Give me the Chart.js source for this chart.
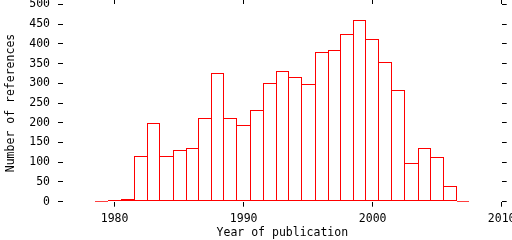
<!DOCTYPE html>
<html><head><meta charset="utf-8">
<script src="https://cdn.jsdelivr.net/npm/chart.js@4.4.1/dist/chart.umd.min.js"></script>
<style>html,body{margin:0;padding:0;background:#fff;overflow:hidden}#wrap{width:512px;height:240px;position:relative}</style>
</head><body><div id="wrap"><canvas id="c" width="512" height="240"></canvas></div>
<script>
// ---- data ----
const years = [1979,1980,1981,1982,1983,1984,1985,1986,1987,1988,1989,1990,1991,1992,1993,1994,1995,1996,1997,1998,1999,2000,2001,2002,2003,2004,2005,2006,2007];
const counts = [0,4,6,115,200,115,132,135,211,325,211,195,232,300,332,317,297,378,383,426,461,413,353,282,97,137,114,41,0];
const xTickLabels = [1980,1990,2000,2010];
const yTickLabels = [0,50,100,150,200,250,300,350,400,450,500];
const xRange = [1976, 2010];
const yRange = [0, 500];
const xTitle = 'Year of publication';
const yTitle = 'Number of references';

const FONT = {family: "'DejaVu Sans Mono', monospace", size: 11.5};
Chart.defaults.font = FONT;
Chart.defaults.color = '#000';

const tickGrid = {display: true, drawOnChartArea: false, drawTicks: true, tickLength: 5, color: '#000', lineWidth: 1};
const setTicks = arr => s => { s.ticks = arr.map(v => ({value: v})); };

// snap bar edges (computed by the scales) to whole device pixels, like a bitmap plotter;
// an empty bin still shows its 1px bottom outline
const pixelSnap = {
  id: 'pixelSnap',
  beforeDatasetsDraw(chart) {
    chart.getSortedVisibleDatasetMetas().forEach(meta => {
      meta.data.forEach(el => {
        const l = Math.round(el.x - el.width / 2);
        const r = Math.round(el.x + el.width / 2);
        el.x = (l + r) / 2;
        el.width = r - l;
        el.base = Math.round(el.base);
        el.y = Math.min(Math.round(el.y), el.base - 1);
        el.height = el.base - el.y;
      });
    });
  }
};

new Chart(document.getElementById('c'), {
  type: 'bar',
  data: {
    datasets: [{
      data: years.map((y, i) => ({x: y, y: counts[i]})),
      backgroundColor: 'rgba(0,0,0,0)',
      borderColor: '#ff0000',
      borderSkipped: false,
      inflateAmount: 0,
      barPercentage: 1,
      categoryPercentage: 1,
      borderWidth: ctx => {
        const i = ctx.dataIndex;
        const v = counts[i];
        const prev = i > 0 ? counts[i - 1] : 0;
        const next = i < counts.length - 1 ? counts[i + 1] : 0;
        return {top: 1, bottom: 1, left: v >= prev ? 1 : 0, right: v > next ? 1 : 0};
      }
    }]
  },
  plugins: [pixelSnap],
  options: {
    responsive: false,
    animation: false,
    events: [],
    layout: {padding: {left: 0, top: 0, bottom: 0, right: 5.3}},
    plugins: {legend: {display: false}, tooltip: {enabled: false}},
    scales: {
      x: {
        type: 'linear', position: 'bottom', min: xRange[0], max: xRange[1], offset: false,
        grid: {...tickGrid, offset: false}, border: {display: false},
        afterBuildTicks: setTicks(xTickLabels),
        ticks: {padding: 5, maxRotation: 0, autoSkip: false, callback: v => String(v)},
        title: {display: true, text: xTitle, padding: {top: 0, bottom: 0}},
        afterFit: s => { s.height = 38.3; s.paddingLeft = 0; s.paddingRight = 0; }
      },
      x2: {
        type: 'linear', position: 'top', min: xRange[0], max: xRange[1], offset: false,
        grid: {...tickGrid, offset: false}, border: {display: false},
        afterBuildTicks: setTicks(xTickLabels),
        ticks: {display: false},
        afterFit: s => { s.height = 4.3; s.paddingLeft = 0; s.paddingRight = 0; }
      },
      y: {
        type: 'linear', position: 'left', min: yRange[0], max: yRange[1],
        grid: tickGrid, border: {display: false},
        afterBuildTicks: setTicks(yTickLabels),
        ticks: {padding: 8, callback: v => String(v)},
        title: {display: true, text: yTitle, padding: {top: 4.5, bottom: 0}},
        afterFit: s => { s.width = 63; s.paddingTop = 0; s.paddingBottom = 0; }
      },
      y2: {
        type: 'linear', position: 'right', min: yRange[0], max: yRange[1],
        grid: tickGrid, border: {display: false},
        afterBuildTicks: setTicks(yTickLabels),
        ticks: {display: false},
        afterFit: s => { s.width = 5; s.paddingTop = 0; s.paddingBottom = 0; }
      }
    }
  }
});
</script>
</body></html>
